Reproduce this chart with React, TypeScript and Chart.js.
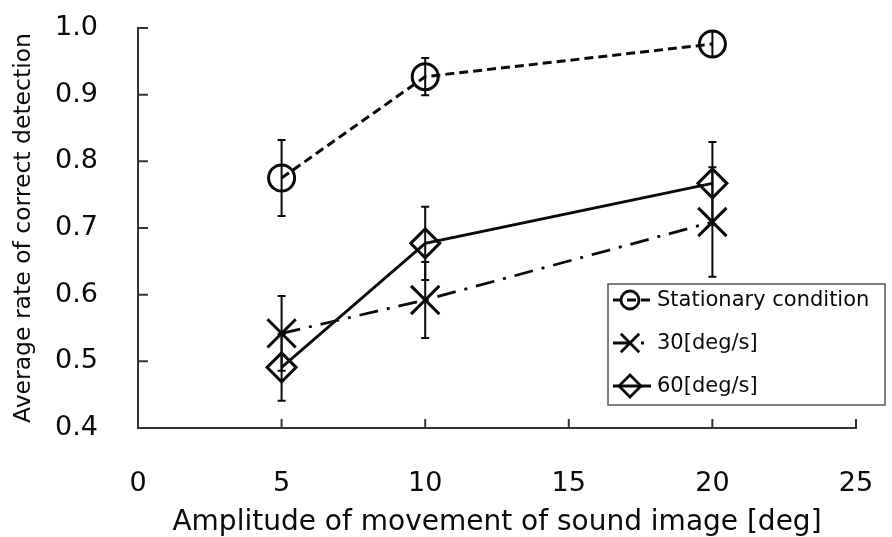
import React, { useEffect, useRef } from 'react';
import { Chart, registerables } from 'chart.js';

Chart.register(...registerables);

// ---- data ----
const amplitudes = [5, 10, 20];
const seriesLabels = ['Stationary condition', '30[deg/s]', '60[deg/s]'];
const stationaryMean = [0.775, 0.927, 0.976];
const stationaryErr = [0.057, 0.028, 0.019];
const speed30Mean = [0.542, 0.592, 0.709];
const speed30Err = [0.056, 0.057, 0.082];
const speed60Mean = [0.491, 0.677, 0.767];
const speed60Err = [0.05, 0.055, 0.062];
const xTickValues = [0, 5, 10, 15, 20, 25];
const yTickValues = [0.4, 0.5, 0.6, 0.7, 0.8, 0.9, 1.0];
const xTitle = 'Amplitude of movement of sound image [deg]';
const yTitle = 'Average rate of correct detection';

const INK = '#0a0a0a';
const AXIS = '#333';

function drawMarker(ctx: CanvasRenderingContext2D, style: string, x: number, y: number, r: number) {
  ctx.beginPath();
  if (style === 'circle') {
    ctx.arc(x, y, r, 0, Math.PI * 2);
  } else if (style === 'rectRot') {
    ctx.moveTo(x - r, y);
    ctx.lineTo(x, y - r);
    ctx.lineTo(x + r, y);
    ctx.lineTo(x, y + r);
    ctx.closePath();
  } else {
    const d = r * Math.SQRT1_2;
    ctx.moveTo(x - d, y - d);
    ctx.lineTo(x + d, y + d);
    ctx.moveTo(x - d, y + d);
    ctx.lineTo(x + d, y - d);
  }
  ctx.stroke();
}

const errorBarPlugin = {
  id: 'errorBars',
  beforeDatasetsDraw(chart: any) {
    const ctx = chart.ctx;
    const xs = chart.scales.x;
    const ys = chart.scales.y;
    chart.data.datasets.forEach((ds: any) => {
      const errs: number[] = ds.errors;
      if (!errs) return;
      ctx.save();
      ctx.strokeStyle = INK;
      ctx.lineWidth = 2;
      ctx.setLineDash([]);
      ds.data.forEach((p: any, i: number) => {
        const px = xs.getPixelForValue(p.x);
        const top = ys.getPixelForValue(p.y + errs[i]);
        const bot = ys.getPixelForValue(p.y - errs[i]);
        ctx.beginPath();
        ctx.moveTo(px, top);
        ctx.lineTo(px, bot);
        ctx.moveTo(px - 4, top);
        ctx.lineTo(px + 4, top);
        ctx.moveTo(px - 4, bot);
        ctx.lineTo(px + 4, bot);
        ctx.stroke();
      });
      ctx.restore();
    });
  },
};

const inwardTicksPlugin = {
  id: 'inwardTicks',
  afterDraw(chart: any) {
    const ctx = chart.ctx;
    const xs = chart.scales.x;
    const ys = chart.scales.y;
    ctx.save();
    ctx.strokeStyle = AXIS;
    ctx.lineWidth = 2;
    ctx.beginPath();
    xs.ticks.forEach((t: any) => {
      const px = xs.getPixelForValue(t.value);
      ctx.moveTo(px, xs.top);
      ctx.lineTo(px, xs.top - 9);
    });
    ys.ticks.forEach((t: any) => {
      const py = ys.getPixelForValue(t.value);
      ctx.moveTo(ys.right, py);
      ctx.lineTo(ys.right + 10, py);
    });
    ctx.stroke();
    ctx.restore();
  },
};

const boxLegendPlugin = {
  id: 'boxLegend',
  afterDraw(chart: any) {
    const ctx = chart.ctx;
    const bx = 608;
    const by = 284;
    const bw = 277;
    const bh = 121;
    ctx.save();
    ctx.fillStyle = '#fff';
    ctx.fillRect(bx, by, bw, bh);
    ctx.strokeStyle = '#555';
    ctx.lineWidth = 1.5;
    ctx.strokeRect(bx, by, bw, bh);
    chart.data.datasets.forEach((ds: any, i: number) => {
      const cy = by + 16 + i * 43;
      ctx.strokeStyle = INK;
      ctx.lineWidth = ds.borderWidth;
      ctx.setLineDash(ds.borderDash || []);
      ctx.beginPath();
      ctx.moveTo(bx + 5, cy);
      ctx.lineTo(bx + 43, cy);
      ctx.stroke();
      ctx.setLineDash([]);
      ctx.lineWidth = 2.8;
      drawMarker(ctx, ds.pointStyle, bx + 22, cy, ds.legendRadius);
      ctx.fillStyle = INK;
      ctx.font = '21px "DejaVu Sans"';
      ctx.textBaseline = 'middle';
      ctx.textAlign = 'left';
      ctx.fillText(ds.label, bx + 49, cy + 1);
    });
    ctx.restore();
  },
};

function toPoints(means: number[]) {
  return amplitudes.map((x, i) => ({ x, y: means[i] }));
}

function clearPadding(s: any) {
  s.paddingTop = 0;
  s.paddingBottom = 0;
  s.paddingLeft = 0;
  s.paddingRight = 0;
}

export default function App() {
  const ref = useRef<HTMLCanvasElement>(null);

  useEffect(() => {
    document.body.style.margin = '0';
    const chart = new Chart(ref.current as HTMLCanvasElement, {
      type: 'line',
      data: {
        datasets: [
          {
            label: seriesLabels[0],
            data: toPoints(stationaryMean),
            errors: stationaryErr,
            borderColor: INK,
            borderWidth: 3,
            borderDash: [9, 5],
            pointStyle: 'circle',
            pointRadius: 13,
            pointBorderWidth: 3,
            pointBorderColor: INK,
            pointBackgroundColor: 'rgba(0,0,0,0)',
            legendRadius: 9,
          } as any,
          {
            label: seriesLabels[1],
            data: toPoints(speed30Mean),
            errors: speed30Err,
            borderColor: INK,
            borderWidth: 2.8,
            borderDash: [19, 9, 3, 9],
            pointStyle: 'crossRot',
            pointRadius: 20,
            pointBorderWidth: 3,
            pointBorderColor: INK,
            pointBackgroundColor: 'rgba(0,0,0,0)',
            legendRadius: 13,
          } as any,
          {
            label: seriesLabels[2],
            data: toPoints(speed60Mean),
            errors: speed60Err,
            borderColor: INK,
            borderWidth: 2.8,
            borderDash: [],
            pointStyle: 'rectRot',
            pointRadius: 14.5,
            pointBorderWidth: 3,
            pointBorderColor: INK,
            pointBackgroundColor: 'rgba(0,0,0,0)',
            legendRadius: 11,
          } as any,
        ],
      },
      options: {
        responsive: false,
        animation: false,
        events: [],
        layout: { autoPadding: false, padding: { top: 28, right: 36, left: 0, bottom: 0 } },
        plugins: {
          legend: { display: false },
          tooltip: { enabled: false },
        },
        scales: {
          x: {
            type: 'linear',
            min: 0,
            max: 25,
            afterFit: (s: any) => {
              s.height = 109;
              clearPadding(s);
            },
            afterBuildTicks: (s: any) => {
              s.ticks = xTickValues.map((v) => ({ value: v }));
            },
            grid: { display: true, drawOnChartArea: false, drawTicks: false },
            border: { display: true, color: AXIS, width: 2 },
            ticks: {
              padding: 40,
              color: INK,
              font: { family: '"DejaVu Sans"', size: 27 },
              maxRotation: 0,
            },
            title: {
              display: true,
              text: xTitle,
              color: INK,
              font: { family: '"DejaVu Sans"', size: 28, lineHeight: 1 },
              padding: { top: 0, bottom: 0 },
            },
          },
          y: {
            type: 'linear',
            min: 0.4,
            max: 1.0,
            afterFit: (s: any) => {
              s.width = 138;
              clearPadding(s);
            },
            afterBuildTicks: (s: any) => {
              s.ticks = yTickValues.map((v) => ({ value: v }));
            },
            grid: { display: true, drawOnChartArea: false, drawTicks: false },
            border: { display: true, color: AXIS, width: 2 },
            ticks: {
              padding: 40,
              color: INK,
              font: { family: '"DejaVu Sans"', size: 27 },
              callback: (v: any) => Number(v).toFixed(1),
            },
            title: {
              display: true,
              text: yTitle,
              color: INK,
              font: { family: '"DejaVu Sans"', size: 23.5, lineHeight: 1 },
              padding: { top: 12, bottom: 0 },
            },
          },
        },
      } as any,
      plugins: [errorBarPlugin, inwardTicksPlugin, boxLegendPlugin],
    });
    return () => chart.destroy();
  }, []);

  return (
    <div style={{ position: 'absolute', left: 0, top: 0, width: 892, height: 537, background: '#fff' }}>
      <canvas ref={ref} width={892} height={537} style={{ display: 'block' }} />
    </div>
  );
}
